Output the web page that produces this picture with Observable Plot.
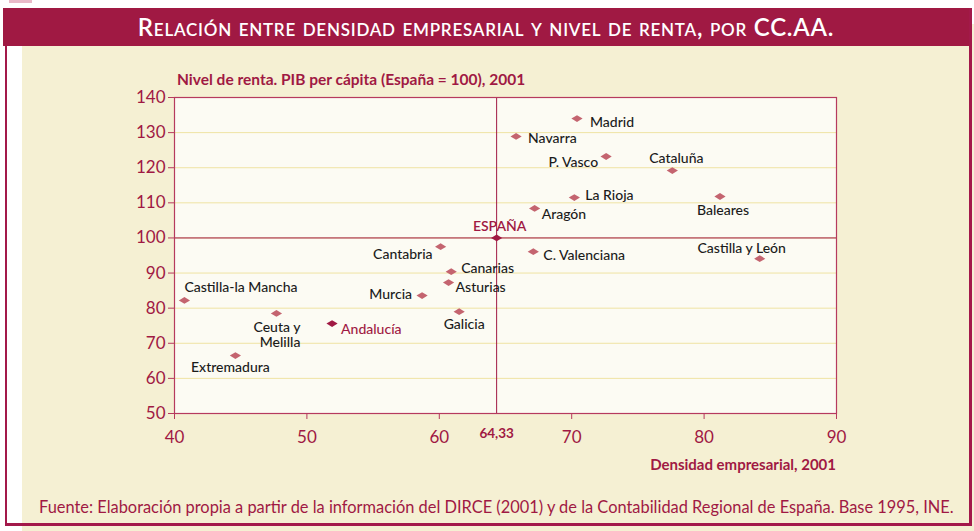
<!DOCTYPE html>
<html>
<head>
<meta charset="utf-8">
<script src="https://cdn.jsdelivr.net/npm/d3@7"></script>
<script src="https://cdn.jsdelivr.net/npm/@observablehq/plot@0.6"></script>
<style>
  html, body { margin: 0; padding: 0; background: #fff; }
  #wrap { position: relative; width: 974px; height: 531px; overflow: hidden; font-family: Lato, "Open Sans", sans-serif; }
  .abs { position: absolute; }
</style>
</head>
<body>
<div id="wrap">
  <div class="abs" style="left:9px;top:0;width:23px;height:3px;background:#e9b9c8"></div>
  <div class="abs" style="left:22px;top:24px;width:952px;height:507px;background:#f5f0d3"></div>
  <div class="abs" style="left:5px;top:8px;width:2px;height:518px;background:#a3194a"></div>
  <div class="abs" style="left:5px;top:523px;width:967px;height:3px;background:#a3194a"></div>
  <div class="abs" style="left:969px;top:8px;width:3px;height:518px;background:#a3194a"></div>
  <div id="titlebar" class="abs" style="left:3px;top:8px;width:966px;height:38px;background:#a01943;color:#fff;text-align:center;line-height:38px;font-size:24px;letter-spacing:0.75px;font-variant:small-caps;font-weight:600;"></div>
  <div id="chart" class="abs" style="left:0;top:0"></div>
  <div id="ytitle" class="abs" style="left:177px;top:70px;color:#a01943;font-weight:700;font-size:15.5px;white-space:nowrap"></div>
  <div id="xtitle" class="abs" style="right:138px;top:455px;color:#a01943;font-weight:700;font-size:15px;white-space:nowrap"></div>
  <div id="caption" class="abs" style="left:39px;top:497px;color:#a01943;font-size:16.4px;white-space:nowrap"></div>
</div>
<script>
// ---- data ----
const regions = ["Madrid","Navarra","P. Vasco","Cataluña","La Rioja","Baleares","Aragón","C. Valenciana","Castilla y León","Cantabria","Canarias","Asturias","Murcia","Galicia","Castilla-la Mancha","Ceuta y\nMelilla","Andalucía","Extremadura"];
const densidad = [70.4, 65.8, 72.6, 77.6, 70.2, 81.2, 67.2, 67.1, 84.2, 60.1, 60.9, 60.7, 58.7, 61.5, 40.75, 47.7, 51.9, 44.6];
const renta    = [134.0, 128.9, 123.2, 119.2, 111.5, 111.8, 108.4, 96.1, 94.1, 97.5, 90.4, 87.3, 83.6, 79.0, 82.2, 78.5, 75.6, 66.5];
const espanaName = "ESPAÑA";
const espanaDensidad = 64.33;
const espanaRenta = 100;
const espanaTickLabel = "64,33";
const xTicks = [40, 50, 60, 70, 80, 90];
const yTicks = [50, 60, 70, 80, 90, 100, 110, 120, 130, 140];
const titleText = "Relación entre densidad empresarial y nivel de renta, por CC.AA.";
const yTitle = "Nivel de renta. PIB per cápita (España = 100), 2001";
const xTitle = "Densidad empresarial, 2001";
const captionText = "Fuente: Elaboración propia a partir de la información del DIRCE (2001) y de la Contabilidad Regional de España. Base 1995, INE.";

// ---- label layout (not data) ----
const labelLayout = {
  "Madrid": ["start", 13, 3],
  "Navarra": ["start", 12, 2],
  "P. Vasco": ["end", -8, 6],
  "Cataluña": ["middle", 4, -12],
  "La Rioja": ["start", 11, -3],
  "Baleares": ["middle", 3, 14],
  "Aragón": ["start", 7, 6],
  "C. Valenciana": ["start", 10, 3],
  "Castilla y León": ["middle", -18, -11],
  "Cantabria": ["end", -8, 7],
  "Canarias": ["start", 10, -4],
  "Asturias": ["start", 7, 5],
  "Murcia": ["end", -10, -1],
  "Galicia": ["middle", 5, 12],
  "Castilla-la Mancha": ["start", 0, -13],
  "Ceuta y\nMelilla": ["end", 24, 21],
  "Andalucía": ["start", 9, 5],
  "Extremadura": ["middle", -5, 11]
};

const crimson = "#a01943";
const axisCol = "#b63a5e";
const rose = "#c4646f";
const highlight = new Set(["Andalucía"]);

document.getElementById("titlebar").textContent = titleText;
document.getElementById("ytitle").textContent = yTitle;
document.getElementById("xtitle").textContent = xTitle;
document.getElementById("caption").textContent = captionText;

const data = regions.map((r, i) => ({name: r, x: densidad[i], y: renta[i]}));
const espana = [{name: espanaName, x: espanaDensidad, y: espanaRenta}];

const flatDiamond = {
  draw(ctx, size) {
    const r = Math.sqrt(size / Math.PI);
    const hw = r * 1.4, hh = r * 0.85;
    ctx.moveTo(-hw, 0); ctx.lineTo(0, -hh); ctx.lineTo(hw, 0); ctx.lineTo(0, hh); ctx.closePath();
  }
};

const labelMarks = data.map(d => {
  const [anchor, dx, dy] = labelLayout[d.name];
  return Plot.text([d], {
    x: "x", y: "y", text: "name", textAnchor: anchor, dx, dy,
    fill: highlight.has(d.name) ? crimson : "#1b1b1b",
    fontSize: 14, fontWeight: 500, lineHeight: 1.1
  });
});

const chart = Plot.plot({
  width: 974, height: 531,
  marginLeft: 174, marginRight: 138, marginTop: 97, marginBottom: 118,
  style: {background: "transparent", fontFamily: "Lato, 'Open Sans', sans-serif", overflow: "visible"},
  x: {domain: [40, 90]},
  y: {domain: [50, 140]},
  marks: [
    Plot.frame({fill: "#fcfbf3"}),
    Plot.gridY(yTicks.filter(v => v > 50 && v < 140), {stroke: "#efe3a3", strokeOpacity: 1}),
    Plot.ruleX([espanaDensidad], {stroke: crimson, strokeWidth: 1}),
    Plot.ruleY([espanaRenta], {stroke: crimson, strokeWidth: 1}),
    Plot.frame({stroke: axisCol, strokeWidth: 1.2}),
    Plot.axisY(yTicks, {label: null, tickSize: 6, tickPadding: 3, fontSize: 17, fontWeight: 400, color: axisCol, fill: crimson}),
    Plot.axisX(xTicks, {label: null, tickSize: 6, tickPadding: 11, fontSize: 17, fontWeight: 400, color: axisCol, fill: crimson}),
    Plot.text([espanaDensidad], {x: d => d, frameAnchor: "bottom", dy: 24, text: () => espanaTickLabel, fill: crimson, fontWeight: 700, fontSize: 13.5}),
    Plot.dot(data, {x: "x", y: "y", symbol: flatDiamond, r: 4, fill: d => highlight.has(d.name) ? crimson : rose, stroke: "none"}),
    Plot.dot(espana, {x: "x", y: "y", symbol: flatDiamond, r: 4, fill: crimson, stroke: "none"}),
    Plot.text(espana, {x: "x", y: "y", text: "name", dx: 3, dy: -11, fill: crimson, fontSize: 14, fontWeight: 600}),
    ...labelMarks
  ]
});
document.getElementById("chart").appendChild(chart);
</script>
</body>
</html>
